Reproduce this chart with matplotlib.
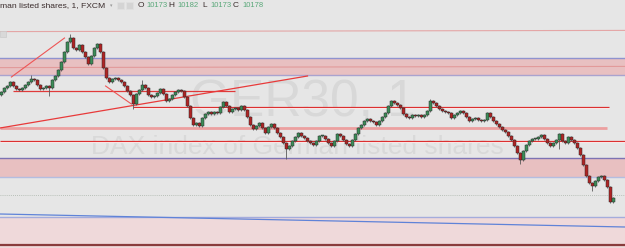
import matplotlib
matplotlib.use("Agg")
import matplotlib.pyplot as plt
from matplotlib.patches import Rectangle

# --- data (1 minute closes) ---
closes = [
    10231, 10233, 10234, 10236, 10234, 10232.5, 10232, 10233, 10234.5, 10236,
    10237.5, 10237, 10234.5, 10232.5, 10233, 10234, 10233, 10237, 10239, 10242,
    10246, 10251, 10256, 10258, 10253, 10252, 10254.5, 10251, 10248.5, 10245,
    10249, 10253, 10255, 10251, 10243, 10238, 10236, 10237.5, 10238, 10237,
    10236, 10234, 10231.5, 10229.5, 10225, 10230, 10232, 10234.5, 10233, 10229.5,
    10228.5, 10229, 10230.5, 10232.5, 10230, 10226.5, 10227.5, 10229.5, 10231, 10232,
    10231.5, 10228.5, 10224, 10218, 10214.5, 10215.5, 10214, 10218, 10220, 10221,
    10220, 10221, 10220.5, 10223.5, 10226, 10224, 10221, 10222.5, 10223, 10222,
    10224, 10222, 10218.5, 10214.5, 10212.5, 10214, 10215.5, 10213, 10210.5, 10213.5,
    10215, 10213, 10210.5, 10208.5, 10205.5, 10202.5, 10204, 10206.5, 10208.5, 10210.5,
    10209, 10208, 10206.5, 10205.5, 10204.5, 10206.5, 10209, 10209, 10207.5, 10205.5,
    10204, 10206.5, 10210, 10209, 10207, 10205, 10204, 10207, 10210, 10213,
    10214.5, 10216.5, 10217.5, 10216.5, 10216, 10214.5, 10216.5, 10218.5, 10220.5, 10224,
    10226.5, 10225.5, 10224.5, 10223, 10220, 10218.5, 10218, 10219.5, 10219, 10219.5,
    10218.5, 10219.5, 10221.5, 10226.5, 10225.5, 10224, 10222.5, 10221.5, 10221, 10220.5,
    10218, 10219.5, 10220.5, 10221.5, 10220.5, 10218.5, 10216.5, 10217.5, 10218, 10217,
    10216.5, 10217, 10220.5, 10218.5, 10216.5, 10215, 10213.5, 10212, 10211, 10209,
    10207, 10204, 10200.5, 10197, 10201.5, 10204.5, 10206.5, 10207.5, 10207.5, 10208.5,
    10209.5, 10207.5, 10205.5, 10204, 10205.5, 10207, 10210, 10206.5, 10205.5, 10208.5,
    10207, 10205.5, 10203, 10199.5, 10194.5, 10189, 10185.5, 10184, 10186.5, 10188.5,
    10189, 10187, 10183.5, 10176, 10178,
]
first_open = 10229.5
spike_lows = {16: 10229.5, 44: 10223, 95: 10198, 173: 10195.5, 186: 10203, 197: 10182}
spike_highs = {10: 10239, 23: 10259.5, 47: 10236.5, 143: 10227}

# drawn levels / tools (price)
top_level = 10261.5
zone_hi = (10248, 10239.5)
zone_hi_mid = 10243.5
level_a = 10231.5
level_b = 10223.5
level_c = 10213
level_d = 10206.5
zone_lo = (10198, 10188.5)
last_price = 10179.5
support = 10168.5
bottom_line = 10154.5

opens = [first_open] + closes[:-1]
n = len(closes)
idx = list(range(n))
highs = [max(o, c) for o, c in zip(opens, closes)]
lows = [min(o, c) for o, c in zip(opens, closes)]
for k, v in spike_lows.items():
    lows[k] = min(lows[k], v)
for k, v in spike_highs.items():
    highs[k] = max(highs[k], v)

BG = "#e6e6e6"
fig = plt.figure(figsize=(6.25, 2.48), dpi=100)
fig.patch.set_facecolor(BG)
ax = fig.add_axes([0, 0, 1, 1])
ax.set_facecolor(BG)
X0, X1 = -0.5, 625 / 3 - 0.5
ax.set_xlim(X0, X1)
ax.set_ylim(10153, 10277)
ax.axis("off")

# watermark
ax.text(100.5, 10225.5, "GER30, 1", fontsize=37, family="Liberation Sans",
        color="#d8d8d8", ha="center", va="center", zorder=0)
ax.text(98.5, 10203.5, "DAX index of German listed shares", fontsize=19,
        family="Liberation Sans", color="#d9d9d9", ha="center", va="center", zorder=0)

# zones
ax.axhspan(zone_hi[1], zone_hi[0], color="#e8c0c1", zorder=1, lw=0)
ax.axhline(zone_hi[0], color="#8f93cf", lw=1, zorder=2)
ax.axhline(zone_hi[1], color="#a9a3cf", lw=1, zorder=2)
ax.plot([X0, X1], [zone_hi_mid - 0.3, zone_hi_mid + 0.3], color="#e29a9a", lw=0.8, zorder=2)
ax.axhspan(zone_lo[1], zone_lo[0], color="#e8c0c1", zorder=1, lw=0)
ax.axhline(zone_lo[0], color="#7d73b3", lw=1, zorder=2)
ax.axhline(zone_lo[1], color="#b4bde0", lw=1, zorder=2)
ax.axhspan(10153, support, color="#efd9da", zorder=1, lw=0)
ax.axhline(support, color="#a4acdc", lw=1, zorder=2)
ax.axhline(bottom_line, color="#8a3c3c", lw=1.6, zorder=2)

# horizontal levels
ax.plot([X0, X1], [top_level - 0.3, top_level + 0.3], color="#e4a6a6", lw=0.8, zorder=2)
ax.hlines(level_a, 3.7, 78, color="#e03a3a", lw=0.9, zorder=2)
ax.hlines(level_b - 0.6, 44, 202.5, color="#ffffff", lw=0.8, zorder=2)
ax.hlines(level_b, 44, 202.5, color="#dc3030", lw=0.9, zorder=2)
ax.hlines(level_c, X0, 202, color="#eca0a0", lw=2, zorder=2)
ax.hlines(level_d - 0.6, X0, X1, color="#ffffff", lw=0.8, zorder=2)
ax.hlines(level_d, X0, X1, color="#dc3030", lw=0.9, zorder=2)
ax.hlines(last_price, X0, X1, color="#a9b3a9", lw=0.6, linestyles=(0, (1, 1.5)), zorder=2)

# trend lines
ax.plot([X0, 102], [10213, 10239], color="#e83a3a", lw=0.9, zorder=2)
ax.plot([3.3, 21], [10238.5, 10258], color="#ee5555", lw=0.8, zorder=2)
ax.plot([34.7, 43.3], [10234, 10225], color="#ee5555", lw=0.8, zorder=2)
ax.plot([X0, X1], [10170, 10163.5], color="#5f83d8", lw=0.9, zorder=2)

# candles
up = [c >= o for o, c in zip(opens, closes)]
ax.vlines(idx, [l - 0.6 for l in lows], [h + 0.6 for h in highs],
          color="#5a5a5a", lw=0.6, zorder=3)
bottoms = [min(o, c) for o, c in zip(opens, closes)]
heights = [max(abs(c - o), 0.35) for o, c in zip(opens, closes)]
ax.bar(idx, heights, bottom=bottoms, width=0.72,
       color=["#3c8c58" if u else "#b02424" for u in up],
       edgecolor="#2a2a2a", linewidth=0.35, zorder=4)

# header
def px(x, y):
    return x / 625, 1 - y / 248

fig.text(*px(0, 5.5), "man listed shares, 1, FXCM", fontsize=6.1,
         family="Liberation Sans", color="#3a2c2c", va="center")
fig.text(*px(110, 6), "\u25be", fontsize=3.5, color="#999999", va="center")
for bx in (117, 126):
    fig.patches.append(Rectangle(px(bx, 9), 7 / 625, 7 / 248, transform=fig.transFigure,
                                 facecolor="#d4d4d4", edgecolor="#e0e0e0", lw=0.6))
fig.patches.append(Rectangle(px(0, 37), 6 / 625, 6 / 248, transform=fig.transFigure,
                             facecolor="#d9d9d9", edgecolor="#cccccc", lw=0.5))
ohlc = [("O", 138, "10173", 146), ("H", 168, "10182", 177),
        ("L", 202, "10173", 210), ("C", 233, "10178", 242)]
for lab, lx, val, vx in ohlc:
    fig.text(*px(lx, 5.5), lab, fontsize=6, family="Liberation Sans",
             color="#3a2c2c", va="center")
    fig.text(*px(vx, 5.5), val, fontsize=5.5, family="Liberation Sans",
             color="#5aa87a", va="center")

plt.savefig("out.png", dpi=100, facecolor=BG)
